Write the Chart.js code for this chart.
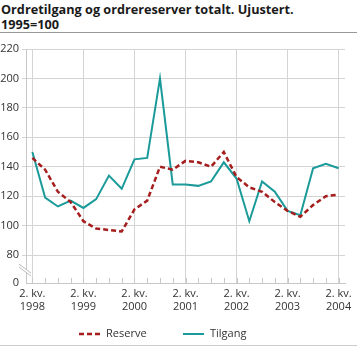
<!DOCTYPE html>
<html>
<head>
<meta charset="utf-8">
<script src="https://cdn.jsdelivr.net/npm/chart.js@4/dist/chart.umd.min.js"></script>
<style>
  html, body { margin: 0; padding: 0; background: #fff; }
  #wrap { position: relative; width: 357px; height: 347px; overflow: hidden; font-family: "Open Sans", sans-serif; }
  #title { position: absolute; left: 1px; top: 2px; font-size: 12.7px; font-weight: bold; line-height: 14.7px; color: #1a1a1a; }
  .rule { position: absolute; left: 0; width: 357px; height: 1px; }
  #canvasBox { position: absolute; left: 0; top: 0; width: 357px; height: 347px; }
  #legend { position: absolute; top: 324px; left: 0; width: 357px; height: 18px; font-size: 11px; color: #333; }
  .item { position: absolute; top: 0; line-height: 18px; white-space: nowrap; }
  .item svg { vertical-align: middle; margin-right: 6px; }
</style>
</head>
<body>
<div id="wrap">
  <div id="title">Ordretilgang og ordrereserver totalt. Ujustert.<br>1995=100</div>
  <div class="rule" style="top:32px;background:#999;"></div>
  <div id="canvasBox"><canvas id="chart"></canvas></div>
  <div id="legend">
    <span class="item" style="left:79px"><svg width="21" height="4"><line x1="0" y1="2" x2="21" y2="2" stroke="#a51d1d" stroke-width="2.5" stroke-dasharray="5,3"/></svg>Reserve</span>
    <span class="item" style="left:183px"><svg width="21" height="4"><line x1="0" y1="2" x2="21" y2="2" stroke="#1b9a9a" stroke-width="2"/></svg>Tilgang</span>
  </div>
  <div class="rule" style="top:345px;background:#ccc;"></div>
</div>
<script>
const quarters = [
  '2. kv. 1998', '3. kv. 1998', '4. kv. 1998', '1. kv. 1999',
  '2. kv. 1999', '3. kv. 1999', '4. kv. 1999', '1. kv. 2000',
  '2. kv. 2000', '3. kv. 2000', '4. kv. 2000', '1. kv. 2001',
  '2. kv. 2001', '3. kv. 2001', '4. kv. 2001', '1. kv. 2002',
  '2. kv. 2002', '3. kv. 2002', '4. kv. 2002', '1. kv. 2003',
  '2. kv. 2003', '3. kv. 2003', '4. kv. 2003', '1. kv. 2004',
  '2. kv. 2004'
];
const reserve = [146, 138, 123, 116, 103, 98, 97, 96, 111, 117, 140, 138, 144, 143, 140, 150, 133, 126, 123, 116, 110, 106, 114, 120, 121];
const tilgang = [150, 119, 113, 117, 112, 118, 134, 125, 145, 146, 200, 128, 128, 127, 130, 143, 132, 103, 130, 123, 110, 107, 139, 142, 139];
const yTicks = [80, 100, 120, 140, 160, 180, 200, 220];
// the axis is broken below 80; the "0" tick sits one step under 80
const zeroAt = 61;

const gridClr = '#d4d4d4';
const textClr = '#333';

// short quarter ticks standing up from the x axis, plus the axis break
const extras = {
  id: 'extras',
  afterDraw(chart) {
    const c = chart.ctx;
    const x = chart.scales.x;
    const a = chart.chartArea;
    c.save();
    c.strokeStyle = '#c8c8c8';
    c.lineWidth = 1;
    for (let i = 0; i < quarters.length; i++) {
      const px = Math.round(x.getPixelForTick(i)) + 0.5;
      c.beginPath();
      c.moveTo(px, a.bottom - 5);
      c.lineTo(px, a.bottom);
      c.stroke();
    }
    const bx = a.left;
    const by = (chart.scales.y.getPixelForValue(80) + a.bottom) / 2;
    c.fillStyle = '#fff';
    c.beginPath();
    c.moveTo(bx - 7, by - 5);
    c.lineTo(bx + 5, by + 4);
    c.lineTo(bx + 5, by + 7);
    c.lineTo(bx - 7, by - 2);
    c.closePath();
    c.fill();
    c.strokeStyle = '#bbb';
    c.beginPath();
    c.moveTo(bx - 7, by - 5);
    c.lineTo(bx + 5, by + 4);
    c.moveTo(bx - 7, by - 2);
    c.lineTo(bx + 5, by + 7);
    c.stroke();
    c.restore();
  }
};

new Chart(document.getElementById('chart'), {
  type: 'line',
  data: {
    labels: quarters,
    datasets: [{
      label: 'Reserve',
      data: reserve,
      borderColor: '#a51d1d',
      borderWidth: 2.5,
      borderDash: [5, 3],
      pointRadius: 0,
      tension: 0,
      fill: false
    }, {
      label: 'Tilgang',
      data: tilgang,
      borderColor: '#1b9a9a',
      borderWidth: 2,
      pointRadius: 0,
      tension: 0,
      fill: false
    }]
  },
  options: {
    responsive: true,
    maintainAspectRatio: false,
    animation: false,
    layout: { padding: { top: 49, left: 0, right: 12, bottom: 28 } },
    plugins: {
      legend: { display: false },
      title: { display: false },
      tooltip: { enabled: false }
    },
    scales: {
      x: {
        offset: true,
        afterFit: (s) => { s.height = 36; },
        border: { color: '#c8c8c8' },
        grid: {
          drawTicks: false,
          color: (ctx) => (ctx.index % 4 === 0 ? gridClr : 'rgba(0,0,0,0)')
        },
        ticks: {
          autoSkip: false,
          maxRotation: 0,
          padding: 4,
          color: textClr,
          font: { family: 'Open Sans', size: 11 },
          callback: (v, i) => (i % 4 === 0 ? [quarters[i].slice(0, 6), quarters[i].slice(7)] : '')
        }
      },
      y: {
        min: zeroAt,
        max: 220,
        afterFit: (s) => { s.width = 26; },
        afterBuildTicks: (s) => {
          s.ticks = [zeroAt].concat(yTicks).map(v => ({ value: v }));
        },
        border: { color: '#c8c8c8' },
        grid: {
          tickLength: 4,
          color: (ctx) => (ctx.tick && ctx.tick.value === zeroAt ? 'rgba(0,0,0,0)' : gridClr)
        },
        ticks: {
          padding: 3,
          color: textClr,
          font: { family: 'Open Sans', size: 11 },
          callback: (v) => (v === zeroAt ? '0' : v)
        }
      }
    }
  },
  plugins: [extras]
});
</script>
</body>
</html>
